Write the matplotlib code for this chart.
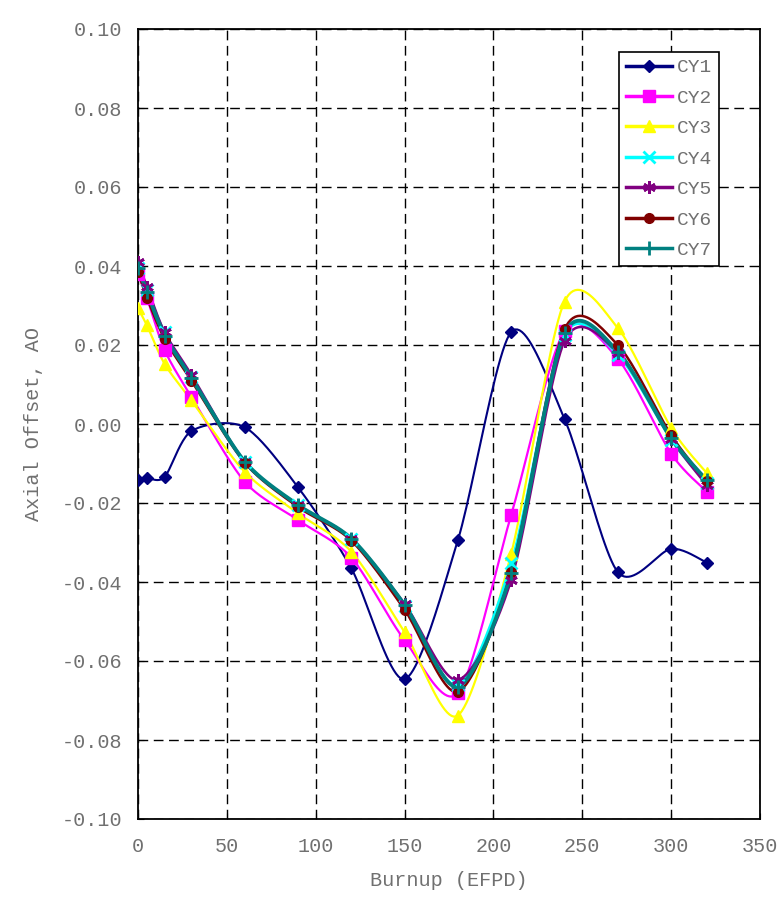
import matplotlib
matplotlib.use("Agg")
import matplotlib.pyplot as plt
import numpy as np

# burnup points (EFPD)
burnup = [0, 5, 15, 30, 60, 90, 120, 150, 180, 210, 240, 270, 300, 320]

# axial offset per cycle
cy1 = [-0.0142, -0.0137, -0.0134, -0.0018, -0.0008, -0.0160, -0.0365, -0.0646,
       -0.0294, 0.0233, 0.0013, -0.0375, -0.0316, -0.0351]
cy2 = [0.0380, 0.0320, 0.0187, 0.0069, -0.0146, -0.0243, -0.0338, -0.0547,
       -0.0681, -0.0230, 0.0235, 0.0165, -0.0075, -0.0171]
cy3 = [0.0294, 0.0250, 0.0152, 0.0060, -0.0121, -0.0226, -0.0323, -0.0527,
       -0.0738, -0.0328, 0.0310, 0.0243, -0.0010, -0.0124]
cy4 = [0.0395, 0.0340, 0.0232, 0.0120, -0.0095, -0.0205, -0.0290, -0.0460,
       -0.0660, -0.0352, 0.0225, 0.0175, -0.0040, -0.0150]
cy5 = [0.0410, 0.0347, 0.0232, 0.0125, -0.0095, -0.0205, -0.0290, -0.0455,
       -0.0648, -0.0395, 0.0210, 0.0180, -0.0038, -0.0155]
cy6 = [0.0386, 0.0320, 0.0215, 0.0110, -0.0098, -0.0210, -0.0295, -0.0470,
       -0.0678, -0.0374, 0.0240, 0.0200, -0.0028, -0.0145]
cy7 = [0.0395, 0.0335, 0.0224, 0.0117, -0.0095, -0.0205, -0.0290, -0.0458,
       -0.0665, -0.0377, 0.0230, 0.0183, -0.0036, -0.0142]

labels = ["CY1", "CY2", "CY3", "CY4", "CY5", "CY6", "CY7"]
series = [cy1, cy2, cy3, cy4, cy5, cy6, cy7]

colors = ["#000080", "#FF00FF", "#FFFF00", "#00FFFF", "#800080", "#800000", "#008080"]
markers = ["D", "s", "^", "x", (6, 2, 0), "o", "+"]
msizes = [6, 8, 8, 8, 9, 7, 10]
lwidths = [1.5, 1.6, 1.6, 1.8, 1.8, 1.8, 2.8]

plt.rcParams['font.family'] = ['Liberation Mono', 'DejaVu Sans Mono']
grey = "#707070"


def smooth(x, y, sx, sy, k=0.14, n=24):
    # excel-like smoothed line, bezier through the points in pixel space
    p = np.column_stack([np.asarray(x) * sx, np.asarray(y) * sy])
    m = len(p)
    out = []
    for i in range(m - 1):
        p0 = p[i - 1] if i > 0 else p[i]
        p1 = p[i]
        p2 = p[i + 1]
        p3 = p[i + 2] if i + 2 < m else p[i + 1]
        c1 = p1 + (p2 - p0) * k
        c2 = p2 - (p3 - p1) * k
        t = np.linspace(0, 1, n)[:, None]
        seg = ((1 - t) ** 3) * p1 + 3 * ((1 - t) ** 2) * t * c1 + 3 * (1 - t) * t ** 2 * c2 + t ** 3 * p2
        out.append(seg if i == 0 else seg[1:])
    out = np.vstack(out)
    return out[:, 0] / sx, out[:, 1] / sy


fig = plt.figure(figsize=(7.83, 9.14), dpi=100)
ax = fig.add_axes([138 / 783, 1 - 819 / 914, 622 / 783, 790 / 914])

sx = 622 / 350.0
sy = 790 / 0.2
handles = []
for ys, lab, c, mk, ms, lw in zip(series, labels, colors, markers, msizes, lwidths):
    xs_s, ys_s = smooth(burnup, ys, sx, sy)
    ax.plot(xs_s, ys_s, color=c, lw=lw, zorder=3)
    mew = 2 if mk in ("x", "+") or isinstance(mk, tuple) else 1
    ax.plot(burnup, ys, ls="none", marker=mk, ms=ms, color=c, mec=c, mfc=c, mew=mew, zorder=4)
    h, = ax.plot([], [], color=c, lw=2.5, marker=mk, ms=ms, mec=c, mfc=c, mew=mew)
    handles.append(h)

ax.set_xlim(0, 350)
ax.set_ylim(-0.10, 0.10)
ax.set_xticks(np.arange(0, 351, 50))
ax.set_yticks(np.arange(-0.10, 0.1001, 0.02))
ax.yaxis.set_major_formatter(matplotlib.ticker.FormatStrFormatter('%.2f'))
ax.grid(True, color="black", ls=(0, (7, 4)), lw=1.0)
ax.set_axisbelow(True)
for s in ax.spines.values():
    s.set_color("black")
    s.set_linewidth(1.3)
ax.tick_params(direction="in", length=4, colors="black", labelcolor=grey, labelsize=14.5)
ax.tick_params(axis="x", pad=13)
ax.tick_params(axis="y", pad=11)

ax.set_xlabel("Burnup (EFPD)", color=grey, fontsize=14.5, labelpad=11)
ax.set_ylabel("Axial Offset, AO", color=grey, fontsize=14.5, labelpad=14)

leg = ax.legend(handles, labels, loc="upper left", bbox_to_anchor=(0.773, 0.971),
                borderaxespad=0, fontsize=14, frameon=True, fancybox=False,
                handlelength=2.4, handletextpad=0.25, labelspacing=0.66,
                borderpad=0.35, labelcolor=grey)
leg.get_frame().set_edgecolor("black")
leg.get_frame().set_linewidth(1.2)
leg.get_frame().set_alpha(1)

fig.savefig("out.png", dpi=100)
